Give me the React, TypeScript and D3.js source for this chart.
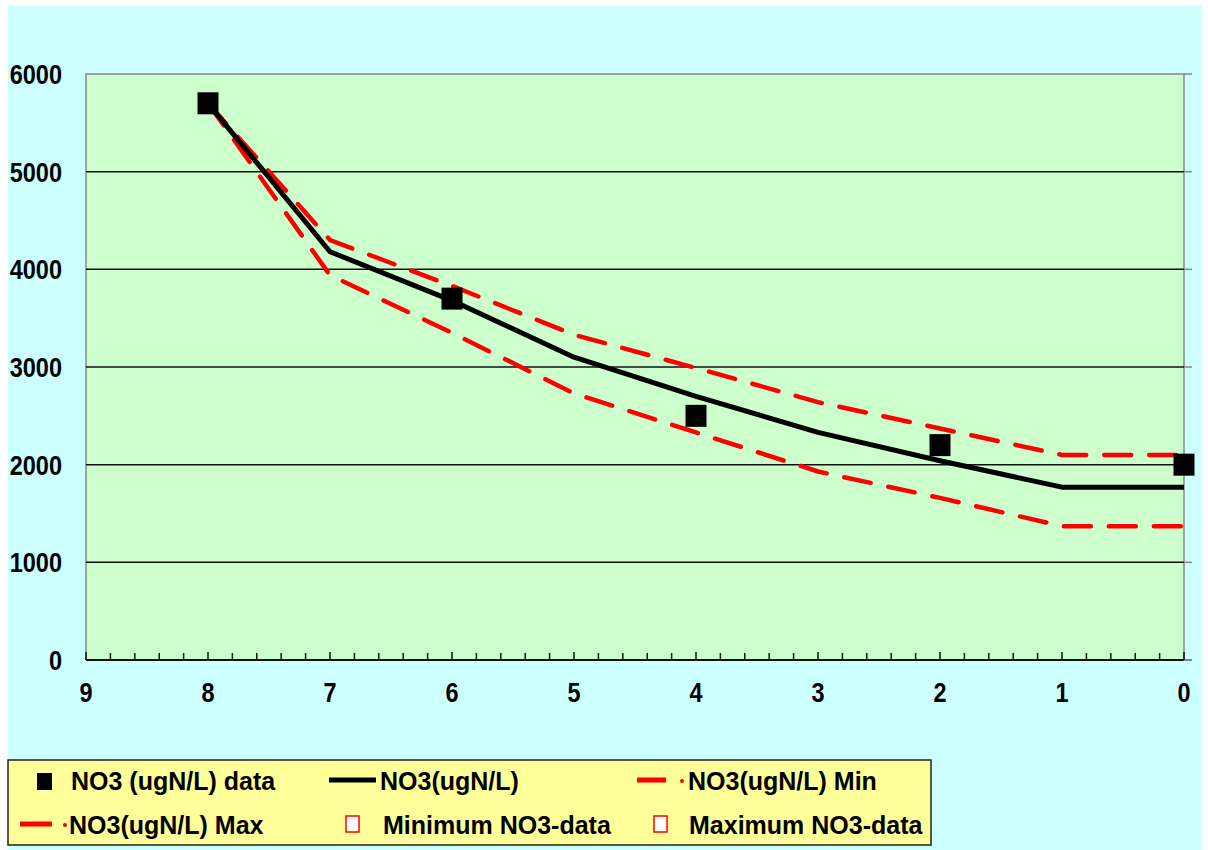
import React from "react";
import * as d3 from "d3";

// distance axis (reversed, 9 -> 0)
const xTicks = [9, 8, 7, 6, 5, 4, 3, 2, 1, 0];
const yTicks = [0, 1000, 2000, 3000, 4000, 5000, 6000];

// measured points
const dataX = [8, 6, 4, 2, 0];
const dataY = [5700, 3700, 2500, 2200, 2000];

// model lines
const lineX = [8, 7, 6, 5, 4, 3, 2, 1, 0];
const modelY = [5700, 4180, 3680, 3100, 2700, 2330, 2040, 1770, 1770];
const maxY = [5700, 4300, 3830, 3330, 2990, 2640, 2370, 2100, 2100];
const minY = [5700, 3940, 3350, 2730, 2330, 1930, 1660, 1370, 1370];

const FONT = "'Liberation Sans', Arial, sans-serif";

export default function App() {
  const W = 1208;
  const H = 850;
  const plot = { left: 86, right: 1184, top: 74, bottom: 660 };

  const x = d3.scaleLinear().domain([9, 0]).range([plot.left, plot.right]);
  const y = d3.scaleLinear().domain([0, 6000]).range([plot.bottom, plot.top]);

  const line = d3
    .line<number>()
    .x((_, i) => x(lineX[i]))
    .y((d) => y(d));

  const minorTicks = d3.range(0, 45 + 1).map((i) => 9 - i * 0.2);

  const dashed = "27 18";
  const squeeze = 0.84;

  return (
    <svg
      width={W}
      height={H}
      style={{ position: "absolute", left: 0, top: 0, display: "block" }}
    >
      <rect x={8} y={6} width={1194} height={844} fill="#CCFFFF" />

      {/* plot area */}
      <rect
        x={plot.left}
        y={plot.top}
        width={plot.right - plot.left}
        height={plot.bottom - plot.top}
        fill="#CCFFCC"
      />
      <path
        d={`M${plot.left},${plot.bottom}V${plot.top}H${plot.right}V${plot.bottom}`}
        fill="none"
        stroke="#888"
        strokeWidth={1.5}
      />
      <line x1={plot.right} x2={plot.right + 8} y1={plot.top} y2={plot.top} stroke="#888" strokeWidth={1.5} />

      {/* grid */}
      {yTicks.slice(1, -1).map((t) => (
        <g key={t}>
          <line x1={plot.left} x2={plot.right} y1={y(t)} y2={y(t)} stroke="#111" strokeWidth={1.5} />
          <line x1={plot.right} x2={plot.right + 8} y1={y(t)} y2={y(t)} stroke="#888" strokeWidth={1.5} />
        </g>
      ))}

      {/* x axis */}
      <line x1={plot.left} x2={plot.right} y1={plot.bottom} y2={plot.bottom} stroke="#111" strokeWidth={2} />
      <line x1={plot.right} x2={plot.right + 8} y1={plot.bottom} y2={plot.bottom} stroke="#888" strokeWidth={2} />
      {minorTicks.map((t, i) => (
        <line
          key={i}
          x1={x(t)}
          x2={x(t)}
          y1={plot.bottom}
          y2={plot.bottom - (i % 5 === 0 ? 8 : 7)}
          stroke="#111"
          strokeWidth={1.5}
        />
      ))}

      {/* tick labels */}
      <g fontFamily={FONT} fontWeight="bold" fontSize={28} fill="#000">
        {yTicks.map((t) => (
          <text
            key={t}
            transform={`translate(62,${y(t) + 10}) scale(${squeeze},1)`}
            textAnchor="end"
          >
            {t}
          </text>
        ))}
        {xTicks.map((t) => (
          <text
            key={t}
            transform={`translate(${x(t)},${plot.bottom + 42}) scale(${squeeze},1)`}
            textAnchor="middle"
          >
            {t}
          </text>
        ))}
      </g>

      {/* series */}
      <path d={line(maxY) ?? ""} fill="none" stroke="#FF0000" strokeWidth={4.5} strokeDasharray={dashed} strokeLinecap="round" />
      <path d={line(minY) ?? ""} fill="none" stroke="#FF0000" strokeWidth={4.5} strokeDasharray={dashed} strokeLinecap="round" />
      <path d={line(modelY) ?? ""} fill="none" stroke="#000" strokeWidth={5} strokeLinejoin="round" />
      {dataX.map((d, i) => (
        <rect key={i} x={x(d) - 10.5} y={y(dataY[i]) - 11} width={21} height={22} fill="#000" />
      ))}

      {/* legend */}
      <rect x={8} y={760} width={923} height={85} fill="#FFFF99" stroke="#222" strokeWidth={1.5} />
      <g fontFamily={FONT} fontWeight="bold" fontSize={25} fill="#000">
        <rect x={37} y={773} width={15} height={17} fill="#000" />
        <text x={71} y={790}>NO3 (ugN/L) data</text>

        <line x1={329} x2={376} y1={780} y2={780} stroke="#000" strokeWidth={5} />
        <text x={380} y={790}>NO3(ugN/L)</text>

        <line x1={637} x2={666} y1={780} y2={780} stroke="#FF0000" strokeWidth={5} />
        <circle cx={682} cy={781} r={2} fill="#FF0000" />
        <text x={688} y={790}>NO3(ugN/L) Min</text>

        <line x1={20} x2={52} y1={824} y2={824} stroke="#FF0000" strokeWidth={5} />
        <circle cx={65} cy={825} r={2} fill="#FF0000" />
        <text x={69} y={834}>NO3(ugN/L) Max</text>

        <rect x={346} y={816} width={13} height={16} fill="#fff" stroke="#FF0000" strokeWidth={1.5} />
        <text x={383} y={834}>Minimum NO3-data</text>

        <rect x={654} y={816} width={13} height={16} fill="#fff" stroke="#FF0000" strokeWidth={1.5} />
        <text x={689} y={834}>Maximum NO3-data</text>
      </g>
    </svg>
  );
}
